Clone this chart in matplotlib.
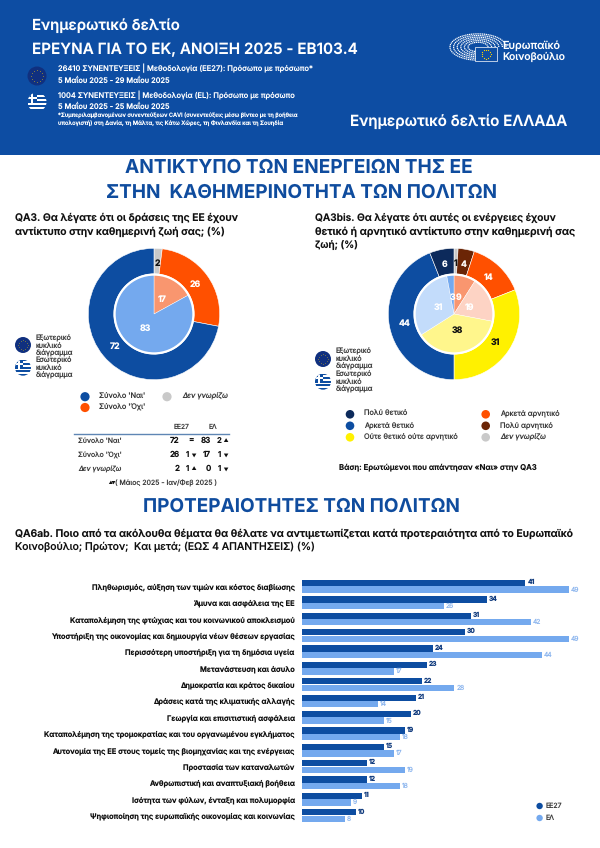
import numpy as np
import matplotlib
matplotlib.use("Agg")
import matplotlib.pyplot as plt
from matplotlib.patches import Rectangle, Circle, Arc

plt.rcParams['font.family'] = ['Inter', 'Noto Sans', 'DejaVu Sans']
plt.rcParams['text.hinting'] = 'none'
plt.rcParams['text.hinting_factor'] = 1

BLUE = '#0D4DA1'; LIGHT = '#74A9EE'; ORANGE = '#FF5000'; GREY = '#C9C9C9'
NAVY = '#0C2A5B'; BROWN = '#6B2506'; YELLOW = '#FFF100'; INK = '#111111'; MID = '#3C3C3C'

# ---- data ----
qa3_outer_vals = [2, 26, 72]
qa3_inner_vals = [17, 83]
qa3_outer_cols = [GREY, ORANGE, BLUE]
qa3_inner_cols = ['#F9966F', LIGHT]
qa3_outer_txt = [INK, 'white', 'white']
qa3_inner_txt = ['white', 'white']

qa3b_outer_vals = [1, 4, 14, 31, 44, 6]
qa3b_inner_vals = [9, 19, 38, 31, 3]
qa3b_outer_cols = [GREY, BROWN, ORANGE, YELLOW, BLUE, NAVY]
qa3b_inner_cols = ['#F9966F', '#FDD3C4', '#FFF68C', '#C3DCFB', LIGHT]
qa3b_outer_txt = [INK, 'white', 'white', INK, 'white', 'white']
qa3b_inner_txt = ['white', 'white', INK, 'white', 'white']

topics = ['Πληθωρισμός, αύξηση των τιμών και κόστος διαβίωσης',
          'Άμυνα και ασφάλεια της ΕΕ',
          'Καταπολέμηση της φτώχιας και του κοινωνικού αποκλεισμού',
          'Υποστήριξη της οικονομίας και δημιουργία νέων θέσεων εργασίας',
          'Περισσότερη υποστήριξη για τη δημόσια υγεία',
          'Μετανάστευση και άσυλο',
          'Δημοκρατία και κράτος δικαίου',
          'Δράσεις κατά της κλιματικής αλλαγής',
          'Γεωργία και επισιτιστική ασφάλεια',
          'Καταπολέμηση της τρομοκρατίας και του οργανωμένου εγκλήματος',
          'Αυτονομία της ΕΕ στους τομείς της βιομηχανίας και της ενέργειας',
          'Προστασία των καταναλωτών',
          'Ανθρωπιστική και αναπτυξιακή βοήθεια',
          'Ισότητα των φύλων, ένταξη και πολυμορφία',
          'Ψηφιοποίηση της ευρωπαϊκής οικονομίας και κοινωνίας']
eu27 = [41, 34, 31, 30, 24, 23, 22, 21, 20, 19, 15, 12, 12, 11, 10]
el = [49, 26, 42, 49, 44, 17, 28, 14, 15, 18, 17, 19, 18, 9, 8]

table_rows = ["Σύνολο 'Ναι'", "Σύνολο 'Όχι'", "Δεν γνωρίζω"]
table_eu = [72, 26, 2]
table_eu_diff = ['', '1', '1']
table_eu_arrow = ['', '▼', '▲']
table_el = [83, 17, 0]
table_el_diff = ['2', '1', '1']
table_el_arrow = ['▲', '▼', '▼']

W, H = 600, 848
fig = plt.figure(figsize=(W / 100, H / 100), dpi=100, facecolor='white')
bg = fig.add_axes([0, 0, 1, 1])
bg.set_xlim(0, W); bg.set_ylim(H, 0); bg.axis('off')


def T(x, y, s, size=6.0, w=None, color=INK, weight='normal', ha='left', style='normal', ax=bg):
    t = ax.text(x, y, s, fontsize=size, color=color, fontweight=weight, ha=ha, va='center', fontstyle=style)
    if w is not None:
        fig.canvas.draw()
        r = fig.canvas.get_renderer()
        t.set_fontsize(size * w / t.get_window_extent(r).width)
    return t


def eu_flag(x, y, r):
    bg.add_patch(Circle((x, y), r, fc='#10307F', ec='none', zorder=3))
    a = np.linspace(0, 2 * np.pi, 12, endpoint=False)
    bg.scatter(x + 0.62 * r * np.cos(a), y + 0.62 * r * np.sin(a), s=r * 0.09, marker='*', c='#FFD400', lw=0, zorder=4)


def gr_flag(x, y, r):
    clip = Circle((x, y), r, transform=bg.transData)
    h = 2 * r / 9
    for i in range(9):
        p = Rectangle((x - r, y - r + i * h), 2 * r, h, fc=(BLUE if i % 2 == 0 else 'white'), ec='none', zorder=3)
        bg.add_patch(p); p.set_clip_path(clip)
    for box in [(x - r, y - r, r, 5 * h, BLUE), (x - r, y - r + 2 * h, r, h, 'white'), (x - r + 0.38 * r, y - r, 0.24 * r, 5 * h, 'white')]:
        p = Rectangle(box[:2], box[2], box[3], fc=box[4], ec='none', zorder=3)
        bg.add_patch(p); p.set_clip_path(clip)


def dot(x, y, c, r=4.6):
    bg.add_patch(Circle((x, y), r, fc=c, ec='none', zorder=3))


# ---- header ----
HEAD = '#0D4DA3'
bg.add_patch(Rectangle((0, 0), W, 155, fc=HEAD, ec='none', zorder=0))
T(32, 26, 'Ενημερωτικό δελτίο', 11, w=148, color='white', weight='semibold')
T(32, 50, 'ΕΡΕΥΝΑ ΓΙΑ ΤΟ ΕΚ, ΑΝΟΙΞΗ 2025 - EB103.4', 12, w=326, color='white', weight='semibold')
T(58, 68, '26410 ΣΥΝΕΝΤΕΥΞΕΙΣ | Μεθοδολογία (ΕΕ27): Πρόσωπο με πρόσωπο*', 5, w=255, color='white', weight='medium')
T(58, 81, '5 Μαΐου 2025 - 29 Μαΐου 2025', 5, w=111.5, color='white', weight='medium')
T(58, 95, '1004 ΣΥΝΕΝΤΕΥΞΕΙΣ | Μεθοδολογία (EL): Πρόσωπο με πρόσωπο', 5, w=236.5, color='white', weight='medium')
T(58, 107, '5 Μαΐου 2025 - 25 Μαΐου 2025', 5, w=111.5, color='white', weight='medium')
T(58, 115, '*Συμπεριλαμβανομένων συνεντεύξεων CAVI (συνεντεύξεις μέσω βίντεο με τη βοήθεια', 3.5, w=240, color='white', weight='medium')
T(58, 123, 'υπολογιστή) στη Δανία, τη Μάλτα, τις Κάτω Χώρες, τη Φινλανδία και τη Σουηδία', 3.5, w=225.5, color='white', weight='medium')
T(350.5, 122, 'Ενημερωτικό δελτίο ΕΛΛΑΔΑ', 11, w=217.5, color='white', weight='semibold')
eu_flag(37, 76, 9.5)
gr_flag(37, 102, 9.5)

# logo
for rx in [10, 13.6, 17.2, 20.8, 24.4, 28]:
    bg.add_patch(Arc((478, 47), 2 * rx, 2 * rx * 0.47, theta1=80, theta2=360, color='white', lw=0.9,
                     ls=(0, (1.0, 0.5)), zorder=3))
bg.add_patch(Rectangle((475, 47), 22, 14, fc=HEAD, ec='white', lw=0.5, zorder=4))
_a = np.linspace(0, 2 * np.pi, 12, endpoint=False)
bg.scatter(486 + 4.5 * np.cos(_a), 54 + 4.5 * np.sin(_a), s=0.8, c='#FFD400', lw=0, zorder=5)
T(502, 46, 'Ευρωπαϊκό', 8, w=58, color='white', weight='medium')
T(502, 57, 'Κοινοβούλιο', 8, w=63, color='white', weight='medium')

# ---- headings ----
TITLE = '#0F4C9E'
T(125, 168, 'ΑΝΤΙΚΤΥΠΟ ΤΩΝ ΕΝΕΡΓΕΙΩΝ ΤΗΣ ΕΕ', 14, w=348, color=TITLE, weight='bold')
T(106, 193, 'ΣΤΗΝ  ΚΑΘΗΜΕΡΙΝΟΤΗΤΑ ΤΩΝ ΠΟΛΙΤΩΝ', 14, w=391, color=TITLE, weight='bold')
T(143, 507, 'ΠΡΟΤΕΡΑΙΟΤΗΤΕΣ ΤΩΝ ΠΟΛΙΤΩΝ', 14, w=317, color=TITLE, weight='bold')

T(15, 218, 'QA3. Θα λέγατε ότι οι δράσεις της ΕΕ έχουν', 7, w=223, weight='semibold')
T(15, 232, 'αντίκτυπο στην καθημερινή ζωή σας; (%)', 7, w=210, weight='semibold')
T(315, 218, 'QA3bis. Θα λέγατε ότι αυτές οι ενέργειες έχουν', 7, w=241, weight='semibold')
T(315, 232, 'θετικό ή αρνητικό αντίκτυπο στην καθημερινή σας', 7, w=260, weight='semibold')
T(315, 245, 'ζωή; (%)', 7, w=43, weight='semibold')
T(15, 534, 'QA6ab. Ποιο από τα ακόλουθα θέματα θα θέλατε να αντιμετωπίζεται κατά προτεραιότητα από το Ευρωπαϊκό', 7, w=558, weight='semibold')
T(15, 547, 'Κοινοβούλιο; Πρώτον;  Και μετά; (ΕΩΣ 4 ΑΠΑΝΤΗΣΕΙΣ) (%)', 7, w=300, weight='medium')


# ---- donuts ----
def donut(cx, cy, outer, inner, oc, ic, ot, it):
    R = 65.7
    ax = fig.add_axes([(cx - R * 1.02) / W, 1 - (cy + R * 1.02) / H, 2.04 * R / W, 2.04 * R / H])
    ax.set_xlim(-1.02, 1.02); ax.set_ylim(-1.02, 1.02); ax.axis('off')

    def fmt(vals):
        it_ = iter(vals)
        return lambda p: str(next(it_))

    _, _, a1 = ax.pie(outer, colors=oc, startangle=90, counterclock=False, radius=1.0, autopct=fmt(outer),
                      pctdistance=0.77, wedgeprops=dict(width=0.39, edgecolor='white', linewidth=0.4),
                      textprops=dict(fontsize=6.3, fontweight='bold'))
    for t, c in zip(a1, ot):
        t.set_color(c)
    _, _, a2 = ax.pie(inner, colors=ic, startangle=90, counterclock=False, radius=0.6, autopct=fmt(inner),
                      pctdistance=0.43, wedgeprops=dict(edgecolor='white', linewidth=0.3),
                      textprops=dict(fontsize=6.3, fontweight='bold'))
    for t, c in zip(a2, it):
        t.set_color(c)
    ax.add_patch(Circle((0, 0), 0.6, fc='none', ec='white', lw=1.6, zorder=5))
    ax.set_xlim(-1.02, 1.02); ax.set_ylim(-1.02, 1.02)
    return ax


donut(154, 314, qa3_outer_vals, qa3_inner_vals, qa3_outer_cols, qa3_inner_cols, qa3_outer_txt, qa3_inner_txt)
donut(454, 314, qa3b_outer_vals, qa3b_inner_vals, qa3b_outer_cols, qa3b_inner_cols, qa3b_outer_txt, qa3b_inner_txt)

# key for rings
eu_flag(23, 345, 8); gr_flag(23, 367.7, 8)
for y, s in zip([338, 345.7, 353, 360, 367.5, 375], ['Εξωτερικό', 'κυκλικό', 'διάγραμμα', 'Εσωτερικό', 'κυκλικό', 'διάγραμμα']):
    T(36, y, s, 5.2, color=MID)
eu_flag(323, 359, 8); gr_flag(323, 381.7, 8)
for y, s in zip([351.7, 359, 366.7, 374, 381.7, 389], ['Εξωτερικό', 'κυκλικό', 'διάγραμμα', 'Εσωτερικό', 'κυκλικό', 'διάγραμμα']):
    T(336, y, s, 5.2, color=MID)

# legend QA3
dot(85, 396.7, BLUE); T(99, 396.7, "Σύνολο 'Ναι'", 5.3, color=MID)
dot(85, 407.5, ORANGE); T(99, 407.5, "Σύνολο 'Όχι'", 5.3, color=MID)
dot(167, 396.7, GREY); T(182, 396.7, 'Δεν γνωρίζω', 5.3, color=MID, style='italic')

# table
T(182, 427, 'ΕΕ27', 4.8, color=MID, ha='center')
T(213, 427, 'ΕΛ', 4.8, color=MID, ha='center')
bg.plot([74, 229], [434, 434], color='#5F86B4', lw=1.0)
for i, lab in enumerate(table_rows):
    y = 441 + i * 14
    T(78, y, lab, 5.0, color=MID, style='italic' if i == 2 else 'normal')
    T(179.5, y, str(table_eu[i]), 5.8, weight='semibold', ha='right')
    if table_eu_diff[i]:
        T(187, y, table_eu_diff[i], 5.6, weight='semibold', ha='center')
        T(193, y, table_eu_arrow[i], 3.0, color=INK, ha='center')
    else:
        T(191, y, '=', 5.8, weight='semibold', ha='center')
    T(211, y, str(table_el[i]), 5.8, weight='semibold', ha='right')
    T(219, y, table_el_diff[i], 5.6, weight='semibold', ha='center')
    T(225.5, y, table_el_arrow[i], 3.0, color=INK, ha='center')
T(108.5, 483, '▲▼', 2.6, color=INK)
T(115, 483, '( Μάιος 2025 - Ιαν/Φεβ 2025 )', 5.0, color=MID)

# legend QA3bis
for y, c, s in zip([414.3, 425.8, 437.3], [NAVY, BLUE, YELLOW], ['Πολύ θετικό', 'Αρκετά θετικό', 'Ούτε θετικό ούτε αρνητικό']):
    dot(350, y, c, 4.3); T(364, y, s, 5.3, color=MID)
for y, c, s, st in zip([414.3, 425.8, 437.3], [ORANGE, BROWN, GREY], ['Αρκετά αρνητικό', 'Πολύ αρνητικό', 'Δεν γνωρίζω'], ['normal', 'normal', 'italic']):
    dot(485.7, y, c, 4.3); T(500, y, s, 5.3, color=MID, style=st)
T(339, 467, 'Βάση: Ερωτώμενοι που απάντησαν «Ναι» στην QA3', 5.5, w=198, weight='semibold')

# ---- bars ----
x0, per = 301.6, 5.46
pitch = 16.38
top = 586.3 - pitch / 2
bot = top + pitch * len(topics)
xmax = 52
axb = fig.add_axes([x0 / W, 1 - bot / H, per * xmax / W, (bot - top) / H])
axb.patch.set_alpha(0)
ypos = np.arange(len(topics))
h = 0.385
axb.barh(ypos - 0.2, eu27, height=h, color=BLUE, lw=0)
axb.barh(ypos + 0.2, el, height=h, color=LIGHT, lw=0)
axb.set_xlim(0, xmax); axb.set_ylim(len(topics) - 0.5, -0.5)
for s in axb.spines.values():
    s.set_visible(False)
axb.set_xticks([])
axb.set_yticks(ypos)
axb.set_yticklabels(topics, fontsize=5.35, fontweight='semibold', color=INK)
axb.tick_params(axis='y', length=0, pad=5)
for i, (a, b) in enumerate(zip(eu27, el)):
    axb.text(a + 0.35, i - 0.24, str(a), fontsize=4.8, fontweight='bold', color='#123C7E', va='center')
    axb.text(b + 0.35, i + 0.2, str(b), fontsize=4.8, color='#8DB6EE', va='center')

dot(539.6, 806, BLUE, 3.2); T(546, 806, 'ΕΕ27', 5.0, color=MID)
dot(539.6, 818, LIGHT, 3.2); T(546, 818, 'ΕΛ', 5.0, color=MID)

fig.savefig('out.png', dpi=100)
